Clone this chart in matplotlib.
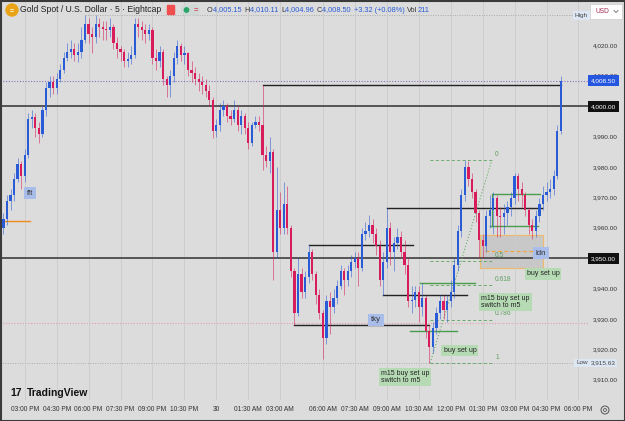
import matplotlib
matplotlib.use("Agg")
import matplotlib.pyplot as plt
import matplotlib.transforms as mtransforms
from matplotlib.patches import Rectangle, Circle, FancyBboxPatch
import numpy as np

plt.rcParams['font.family'] = ['Liberation Sans', 'DejaVu Sans']

BG = '#dcdcdc'
UP = '#2a5bd7'
DOWN = '#d81b5a'

# 10 minute candles, index 0 = 02:00 PM
first_open = 3960.0
closes = [3963, 3969, 3971, 3976, 3981, 3977, 3984, 3996, 3996.5, 3993,
          3991, 3999, 4006, 4008, 4006, 4009, 4012, 4016, 4018, 4019,
          4017, 4018, 4022, 4027, 4024, 4023, 4027, 4026, 4025.5, 4025,
          4026, 4021, 4019, 4018, 4015, 4015.5, 4017, 4027, 4026, 4025,
          4024, 4025, 4016, 4015, 4018, 4009, 4007, 4010, 4016, 4020,
          4017, 4017.5, 4012, 4011, 4009, 4008, 4007, 4005, 4002, 3992,
          3994, 3999, 4000, 3997, 3996, 3999, 3994, 3997, 3993, 3988,
          3994, 3995, 3994, 3984, 3982, 3985, 3952, 3966, 3960, 3968,
          3960, 3946, 3932, 3945, 3939, 3944, 3952, 3945, 3938, 3932,
          3924, 3936, 3934, 3937, 3941, 3946, 3943, 3946, 3949, 3950,
          3947, 3958, 3959, 3961, 3958, 3954, 3943, 3949, 3960, 3952,
          3955, 3957, 3952, 3948, 3936, 3936.5, 3939, 3934, 3937, 3926,
          3921, 3927, 3932, 3936, 3933, 3936, 3939, 3948, 3959, 3971,
          3980, 3976, 3972, 3965, 3956, 3954, 3964, 3966, 3970, 3964,
          3963.5, 3965, 3967, 3970, 3977, 3973, 3971, 3966, 3961, 3959,
          3964, 3968, 3971, 3972, 3973, 3977, 3992, 4008.5]
highs = [3965, 3971, 3973, 3978, 3983, 3982, 3986, 3998, 3999, 3998,
         3995, 4000, 4008, 4010, 4010, 4011, 4014, 4018, 4021, 4022,
         4021, 4021, 4026, 4030, 4029, 4026, 4030, 4029, 4028, 4028,
         4029, 4027, 4023, 4020, 4019, 4018, 4020, 4029, 4029, 4028,
         4027, 4027, 4026, 4019, 4020, 4019, 4010, 4012, 4018, 4022,
         4021, 4020, 4018, 4015, 4013, 4011, 4010, 4009, 4007, 4003,
         3996, 4001, 4002, 4001, 3999, 4002, 4000, 3999, 3998, 3995,
         3995, 3997, 3997, 4007, 3987, 3990, 3986, 3980, 3972, 3975,
         3974, 3961, 3947, 3950, 3947, 3946, 3954.6, 3953, 3946, 3940,
         3933, 3938, 3939, 3940, 3943, 3948, 3947, 3948, 3951, 3952,
         3952, 3960, 3962, 3964.3, 3963, 3960, 3956, 3952, 3966.6, 3962,
         3957, 3960, 3959, 3956, 3950, 3941, 3941, 3941, 3942, 3938,
         3928, 3929, 3934, 3938, 3938, 3938, 3943, 3950, 3961, 3973,
         3982.4, 3982, 3978, 3973, 3966, 3958, 3966, 3971, 3972, 3971,
         3967, 3968, 3969, 3972, 3978, 3978, 3975, 3972, 3967, 3963,
         3966, 3970, 3974, 3975, 3976, 3979, 3994, 4010.11]
lows = [3958, 3961, 3966, 3969, 3975, 3973, 3975, 3983, 3993, 3990,
        3988, 3990, 3997, 4003, 4004, 4004, 4008, 4011, 4015, 4016,
        4015, 4014.5, 4016, 4021, 4021, 4017.6, 4021, 4023, 4022, 4022,
        4023, 4019, 4016, 4015, 4013, 4013, 4014, 4016, 4023, 4022,
        4021, 4022, 4014, 4012, 4013, 4007, 4003, 4003, 4008, 4014,
        4015, 4014, 4010, 4008, 4007, 4005, 4004, 4003, 4000, 3989.6,
        3990, 3992, 3997, 3995, 3994, 3995, 3992, 3991, 3991, 3986,
        3987, 3993, 3992, 3979, 3980, 3978, 3943, 3950, 3958, 3958,
        3958, 3944, 3928.1, 3931, 3937, 3937, 3942, 3943, 3935, 3930,
        3917, 3922, 3925, 3932, 3935, 3940, 3938, 3941, 3944, 3947,
        3941, 3946, 3956, 3957, 3955, 3951, 3941, 3938, 3947, 3948,
        3946, 3953, 3950, 3945, 3934, 3932, 3934, 3929, 3931, 3924,
        3915.63, 3919, 3925, 3930, 3930, 3929.2, 3934, 3937, 3946, 3957,
        3969, 3974, 3970, 3962, 3950.4, 3950, 3952, 3960, 3958, 3957,
        3957, 3958, 3961, 3964, 3968, 3969, 3967, 3964, 3958, 3956.5,
        3957, 3962, 3966, 3969, 3970, 3971, 3976, 3991]

time_ticks = [6, 15, 24, 33, 42, 51, 60, 69, 78, 90, 99, 108, 117, 126, 135, 144, 153, 162]
time_labels = ['03:00 PM', '04:30 PM', '06:00 PM', '07:30 PM', '09:00 PM', '10:30 PM', '30',
               '01:30 AM', '03:00 AM', '06:00 AM', '07:30 AM', '09:00 AM', '10:30 AM',
               '12:00 PM', '01:30 PM', '03:00 PM', '04:30 PM', '06:00 PM']
price_ticks = [4020, 4010, 4000, 3990, 3980, 3970, 3960, 3950, 3940, 3930, 3920, 3910]

last_price = 4008.50
key_levels = [4000.0, 3950.0]
day_high, day_high_idx = 4030.0, 23
day_low, day_low_idx = 3915.63, 120
pink_level = 3928.9

# drawn horizontal rays: (start idx, end idx, price)
black_rays = [(73, 157, 4007.0), (86, 115.4, 3954.6), (108, 151.7, 3966.6),
              (107, 130.6, 3938.0), (82, 120, 3928.1)]
green_rays = [(117.3, 132.8, 3941.8), (114.5, 127.8, 3926.3),
              (137.5, 151.1, 3971.1), (137.0, 150.6, 3960.7)]
orange_zone = (134.3, 151.9, 3947.0, 3957.7)
orange_mid = (135.7, 149.7, 3952.5)
orange_tick = (-0.5, 7.5, 3962.4)

fib_start, fib_end = 120.2, 137.6
fib_top, fib_bottom = 3982.4, 3915.63
fib_ratios = [0, 0.5, 0.618, 0.786, 1]
fib_names = ['0', '0.5', '0.618', '0.786', '1']

session_tags = [('fft', 7.6, 3971.5), ('tky', 105, 3929.8), ('ldn', 151.4, 3951.8)]
notes = [('buy set up', 152, 3944.9, 'center'),
         ('m15 buy set up\nswitch to m5', 134.6, 3935.7, 'left'),
         ('buy set up', 128.6, 3919.6, 'center'),
         ('m15 buy set up\nswitch to m5', 106.3, 3910.9, 'left')]

opens = [first_open] + closes[:-1]
idx = np.arange(len(closes))
o = np.array(opens); c = np.array(closes)
colors = [UP if cc >= oo else DOWN for oo, cc in zip(o, c)]

fig = plt.figure(figsize=(6.25, 4.21), dpi=100)
fig.patch.set_facecolor(BG)
ax = fig.add_axes([0, 21 / 421, 588 / 625, 400 / 421])
ax.set_facecolor(BG)
ax.set_xlim(-0.958, 164.68)
ax.set_ylim(3903.45, 4035.03)
for s in ax.spines.values():
    s.set_visible(False)
ax.set_yticks([])
ax.set_xticks(time_ticks)
ax.set_xticklabels(time_labels, fontsize=4.8, color='#333333')
ax.tick_params(axis='x', length=0, pad=4)
ax.grid(axis='x', color='#cbcbcb', lw=0.6, zorder=0)

# candles
ax.vlines(idx, lows, highs, colors=colors, lw=0.7, alpha=0.55, zorder=3)
ax.bar(idx, np.maximum(np.abs(c - o), 0.3), bottom=np.minimum(o, c), width=0.62,
       color=colors, zorder=4, linewidth=0)

# levels
for lv in key_levels:
    ax.axhline(lv, color='#555555', lw=1.4, zorder=2)
ax.axhline(last_price, color='#8a6fc0', lw=0.8, ls=(0, (1, 1.5)), zorder=2)
ax.axhline(pink_level, color='#e59ab0', lw=0.8, ls=(0, (1, 1.5)), zorder=1)
ax.axhline(day_low, color='#aaaaaa', lw=0.7, ls=(0, (1, 1.5)), zorder=1)
ax.plot([day_high_idx, 162.3], [day_high, day_high], color='#aaaaaa', lw=0.7, ls=(0, (1, 1.5)), zorder=1)

for x0, x1, p in black_rays:
    ax.plot([x0, x1], [p, p], color='#222222', lw=1.0, zorder=2.5)
for x0, x1, p in green_rays:
    ax.plot([x0, x1], [p, p], color='#4c9a4c', lw=1.0, zorder=2.5)
ax.plot([green_rays[2][0], green_rays[2][0]], [green_rays[3][2], green_rays[2][2]],
        color='#4c9a4c', lw=0.8, zorder=2.5)

zx0, zx1, zy0, zy1 = orange_zone
ax.add_patch(Rectangle((zx0, zy0), zx1 - zx0, zy1 - zy0, facecolor='#c4c4c4', alpha=0.8,
                       edgecolor='#f2b65a', lw=0.9, zorder=1.5))
ax.plot([orange_mid[0], orange_mid[1]], [orange_mid[2]] * 2, color='#f0a640', lw=0.9,
        ls=(0, (3, 2)), zorder=2.6)
ax.plot([orange_tick[0], orange_tick[1]], [orange_tick[2]] * 2, color='#f08a1c', lw=1.0, zorder=2.6)

# fibonacci
rng = fib_top - fib_bottom
for r, name in zip(fib_ratios, fib_names):
    lv = fib_top - r * rng
    ax.plot([fib_start, fib_end], [lv, lv], color='#6aaa6a', lw=0.7, ls=(0, (3, 2.5)), zorder=2.6)
    ax.text(fib_end + 0.9, lv + 1.9, name, fontsize=4.8, color='#5f9f5f', ha='left', va='center', zorder=5)
ax.plot([fib_start, fib_end], [fib_bottom, fib_top], color='#6aaa6a', lw=0.8, ls=(0, (1, 1.8)), zorder=2.6)

for t, x, p in session_tags:
    ax.text(x, p, t, fontsize=5.6, color='#333333', ha='center', va='center', zorder=6,
            bbox=dict(boxstyle='square,pad=0.35', fc='#a9bdea', ec='none'))
for t, x, p, ha in notes:
    ax.text(x, p, t, fontsize=5, color='#222222', ha=ha, va='center', zorder=6, linespacing=1.0,
            bbox=dict(boxstyle='square,pad=0.3', fc='#b6dbb4', ec='none'))

# price scale
trans = mtransforms.blended_transform_factory(ax.transAxes, ax.transData)
for p in price_ticks:
    if p in key_levels:
        continue  # covered by the level's own tag
    ax.text(1.051, p, f'{p:,.2f}', transform=trans, ha='right', va='center', fontsize=4.6,
            color='#333333', clip_on=False)
for lv in key_levels:
    ax.text(1.0045, lv, f'{lv:,.2f}', transform=trans, ha='left', va='center', fontsize=4.6,
            color='white', clip_on=False, zorder=7,
            bbox=dict(boxstyle='square,pad=0.45', fc='#111111', ec='none'))
ax.text(1.0045, last_price, f'{last_price:,.2f}', transform=trans, ha='left', va='center', fontsize=4.6,
        color='white', clip_on=False, zorder=7,
        bbox=dict(boxstyle='square,pad=0.45', fc='#2456e0', ec='none'))
ax.text(0.9995, day_high, 'High', transform=trans, ha='right', va='center', fontsize=4.6,
        color='#444444', clip_on=False, zorder=7,
        bbox=dict(boxstyle='square,pad=0.3', fc='#dde6f3', ec='none'))
ax.text(0.9995, day_low, 'Low', transform=trans, ha='right', va='center', fontsize=4.6,
        color='#444444', clip_on=False, zorder=7,
        bbox=dict(boxstyle='square,pad=0.3', fc='#dde6f3', ec='none'))
ax.text(1.0045, day_low, f'{day_low:,.2f}', transform=trans, ha='left', va='center', fontsize=4.6,
        color='#444444', clip_on=False, zorder=7,
        bbox=dict(boxstyle='square,pad=0.3', fc='#dde6f3', ec='none'))

# overlay for header, logo and frame (pixel space)
deco = fig.add_axes([0, 0, 1, 1], zorder=10)
deco.set_xlim(0, 625)
deco.set_ylim(421, 0)
deco.axis('off')
deco.patch.set_alpha(0)

deco.add_patch(Circle((12, 10), 6, color='#e8a317'))
deco.text(12, 10.5, '=', fontsize=5, color='white', ha='center', va='center', fontweight='bold')
deco.text(20, 10, 'Gold Spot / U.S. Dollar · 5 · Eightcap', fontsize=6.2, color='#222222',
          ha='left', va='center')
deco.add_patch(Rectangle((167, 5), 7, 9, color='#f04e4e'))
deco.add_patch(FancyBboxPatch((181, 4.5), 19, 11, boxstyle='round,pad=0,rounding_size=5',
                              fc='#cfd8d4', ec='none'))
deco.add_patch(Circle((186.5, 10), 2.2, color='#2aa56a'))
deco.text(195.5, 10, '=', fontsize=5.5, color='#e04060', ha='center', va='center', fontweight='bold')

fig.canvas.draw()
renderer = fig.canvas.get_renderer()
pieces = [('O', '#333333'), ('4,005.15 ', UP), ('H', '#333333'), ('4,010.11 ', UP),
          ('L', '#333333'), ('4,004.96 ', UP), ('C', '#333333'), ('4,008.50 ', UP),
          ('+3.32 (+0.08%) ', UP), ('Vol', '#333333'), ('211', UP)]
xpos = 207
inv = deco.transData.inverted()
for txt, col in pieces:
    tt = deco.text(xpos, 10, txt, fontsize=5.3, color=col, ha='left', va='center')
    bb = tt.get_window_extent(renderer)
    x0d = inv.transform((bb.x0, bb.y0))[0]
    x1d = inv.transform((bb.x1, bb.y0))[0]
    xpos += (x1d - x0d) + (1.0 if txt.endswith(' ') else 0)

deco.add_patch(Rectangle((590, 4), 32, 15, fc='white', ec='#cccccc', lw=0.5))
deco.text(596, 11.5, 'USD', fontsize=4.8, color='#a02a55', ha='left', va='center')
deco.plot([614, 616, 618], [10.5, 12.5, 10.5], color='#666666', lw=0.6)

deco.text(10, 393, '17', fontsize=7.5, fontweight='bold', color='#111111', ha='left', va='center')
deco.text(27, 393, 'TradingView', fontsize=7.5, fontweight='bold', color='#111111', ha='left', va='center')
deco.add_patch(Circle((605, 410), 4, fc='none', ec='#555555', lw=0.7))
deco.add_patch(Circle((605, 410), 1.5, fc='none', ec='#555555', lw=0.6))

deco.add_patch(Rectangle((0.5, 0.5), 624, 420, fc='none', ec='#3a3a3a', lw=1.5))

fig.savefig('out.png', dpi=100, facecolor=BG)
